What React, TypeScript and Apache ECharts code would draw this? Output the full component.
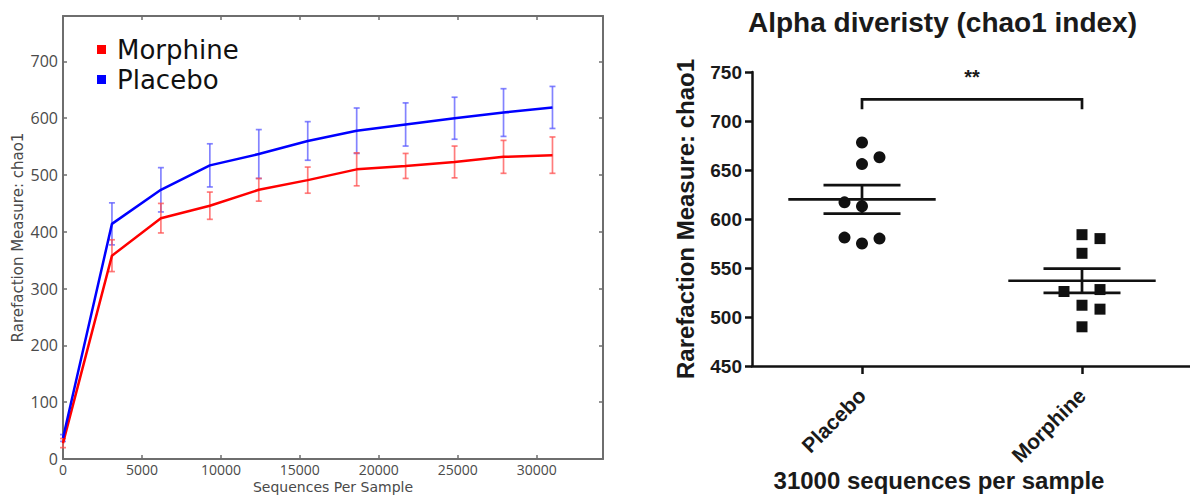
import React, { useEffect, useRef } from "react";
import * as echarts from "echarts";

// ---------- Left panel: rarefaction curves ----------
const seqDepth = [0, 3100, 6200, 9300, 12400, 15500, 18600, 21700, 24800, 27900, 31000];
const placeboMean = [37, 414, 474, 517, 537, 560, 578, 589, 600, 610, 619];
const placeboErr = [6, 37, 39, 38, 43, 34, 40, 38, 37, 42, 37];
const morphineMean = [28, 358, 424, 446, 474, 491, 510, 516, 523, 532, 535];
const morphineErr = [8, 28, 26, 24, 20, 23, 29, 22, 28, 29, 32];
const leftXMax = 34200;
const leftYMax = 780;

// ---------- Right panel: chao1 at 31000 sequences ----------
const groupNames = ["Placebo", "Morphine"];
const placeboChao1 = [678, 663, 656, 617, 613, 581, 575, 580];
const placeboColumn = [0, 1, 0, -1, 0, -1, 0, 1];
const morphineChao1 = [584, 580, 565, 526, 528, 512, 508, 490];
const morphineColumn = [0, 1, 0, -1, 1, 0, 1, 0];
const groupMean = [620, 537];
const groupSem = [14.5, 12.3];
const bracketTop = 722;
const bracketDrop = 712;
const starLevel = 745;

const LEFT_FONT = "'Open Sans', 'DejaVu Sans', sans-serif";
const LEFT_NAME_FONT = "'DejaVu Sans', sans-serif";
const RIGHT_FONT = "'Liberation Sans', Arial, sans-serif";
const FRAME = "#6e6e6e";

function errorBarSeries(name: string, means: number[], errs: number[], color: string) {
  return {
    name,
    type: "custom",
    xAxisIndex: 0,
    yAxisIndex: 0,
    z: 2,
    data: seqDepth.map((x, i) => [x, means[i] - errs[i], means[i] + errs[i]]),
    renderItem: (params: any, api: any) => {
      const lo = api.coord([api.value(0), api.value(1)]);
      const hi = api.coord([api.value(0), api.value(2)]);
      const cap = 3;
      const st = { stroke: color, lineWidth: 1.7 };
      return {
        type: "group",
        children: [
          { type: "line", shape: { x1: lo[0], y1: lo[1], x2: hi[0], y2: hi[1] }, style: st },
          { type: "line", shape: { x1: lo[0] - cap, y1: lo[1], x2: lo[0] + cap, y2: lo[1] }, style: st },
          { type: "line", shape: { x1: hi[0] - cap, y1: hi[1], x2: hi[0] + cap, y2: hi[1] }, style: st },
        ],
      };
    },
  };
}

function buildOption(): any {
  const leftYLabel = { color: "#4a4a4a", fontFamily: LEFT_FONT, fontSize: 16 };
  const leftXLabel = { color: "#4a4a4a", fontFamily: LEFT_FONT, fontSize: 14, lineHeight: 14 };
  const leftXName = { color: "#4a4a4a", fontFamily: LEFT_NAME_FONT, fontSize: 14, lineHeight: 14 };
  const leftYName = { color: "#4a4a4a", fontFamily: LEFT_NAME_FONT, fontSize: 15 };
  const frameLine = { show: true, onZero: false, lineStyle: { color: FRAME, width: 2 } };
  const innerTick = { show: true, inside: true, length: 4, lineStyle: { color: FRAME, width: 1.5 } };
  const hideOdd = (step: number) => (v: number) => (Math.abs(v % step) < 1e-6 ? String(v) : "");
  const blackLine = { show: true, onZero: false, lineStyle: { color: "#111", width: 2.5 } };

  return {
    animation: false,
    backgroundColor: "#ffffff",
    title: {
      text: "Alpha diveristy (chao1 index)",
      left: 743,
      top: 3,
      textStyle: { fontFamily: RIGHT_FONT, fontWeight: "bold", fontSize: 28, color: "#1a1a1a" },
    },
    legend: {
      data: ["Morphine", "Placebo"],
      orient: "vertical",
      left: 97,
      top: 36,
      padding: 0,
      icon: "rect",
      itemWidth: 9,
      itemHeight: 9,
      itemGap: 3,
      selectedMode: false,
      textStyle: {
        fontFamily: "'DejaVu Sans', sans-serif",
        fontSize: 26,
        lineHeight: 27,
        color: "#111",
        padding: [0, 0, 0, 6],
      },
    },
    grid: [
      { left: 63, top: 16, width: 540, height: 443, containLabel: false, outerBoundsMode: "none" },
      { left: 752, top: 72, width: 440, height: 294, containLabel: false, outerBoundsMode: "none" },
    ],
    xAxis: [
      {
        gridIndex: 0,
        type: "value",
        position: "bottom",
        min: 0,
        max: leftXMax,
        interval: 5000,
        axisLine: frameLine,
        axisTick: innerTick,
        splitLine: { show: false },
        axisLabel: { ...leftXLabel, margin: 3, showMaxLabel: false, formatter: hideOdd(5000) },
        name: "Sequences Per Sample",
        nameLocation: "middle",
        nameGap: 21,
        nameMoveOverlap: false,
        nameTextStyle: leftXName,
      },
      {
        gridIndex: 0,
        type: "value",
        position: "top",
        min: 0,
        max: leftXMax,
        interval: 5000,
        axisLine: frameLine,
        axisTick: innerTick,
        splitLine: { show: false },
        axisLabel: { show: false },
      },
      {
        gridIndex: 1,
        type: "category",
        data: groupNames,
        boundaryGap: true,
        axisLine: blackLine,
        axisTick: { show: true, alignWithLabel: true, length: 8, lineStyle: { color: "#111", width: 2.5 } },
        axisLabel: {
          rotate: 45,
          margin: 26,
          fontFamily: RIGHT_FONT,
          fontWeight: "bold",
          fontSize: 21,
          color: "#1a1a1a",
        },
        splitLine: { show: false },
        name: "31000 sequences per sample",
        nameLocation: "middle",
        nameGap: 102,
        nameMoveOverlap: false,
        nameTextStyle: {
          fontFamily: RIGHT_FONT,
          fontWeight: "bold",
          fontSize: 24,
          color: "#1a1a1a",
          padding: [0, 66, 0, 0],
        },
      },
    ],
    yAxis: [
      {
        gridIndex: 0,
        type: "value",
        position: "left",
        min: 0,
        max: leftYMax,
        interval: 100,
        axisLine: frameLine,
        axisTick: innerTick,
        splitLine: { show: false },
        axisLabel: { ...leftYLabel, margin: 5, showMaxLabel: false, formatter: hideOdd(100) },
        name: "Rarefaction Measure: chao1",
        nameLocation: "middle",
        nameGap: 38,
        nameTextStyle: leftYName,
      },
      {
        gridIndex: 0,
        type: "value",
        position: "right",
        min: 0,
        max: leftYMax,
        interval: 100,
        axisLine: frameLine,
        axisTick: innerTick,
        splitLine: { show: false },
        axisLabel: { show: false },
      },
      {
        gridIndex: 1,
        type: "value",
        min: 450,
        max: 750,
        interval: 50,
        axisLine: blackLine,
        axisTick: { show: true, length: 7, lineStyle: { color: "#111", width: 2.5 } },
        splitLine: { show: false },
        axisLabel: {
          margin: 10,
          fontFamily: RIGHT_FONT,
          fontWeight: "bold",
          fontSize: 19,
          color: "#1a1a1a",
        },
        name: "Rarefaction Measure: chao1",
        nameLocation: "middle",
        nameGap: 55,
        nameTextStyle: { fontFamily: RIGHT_FONT, fontWeight: "bold", fontSize: 24, color: "#1a1a1a" },
      },
    ],
    series: [
      errorBarSeries("Placebo SEM", placeboMean, placeboErr, "rgba(90, 90, 255, 0.75)"),
      errorBarSeries("Morphine SEM", morphineMean, morphineErr, "rgba(255, 80, 80, 0.75)"),
      {
        name: "Morphine",
        type: "line",
        xAxisIndex: 0,
        yAxisIndex: 0,
        z: 3,
        showSymbol: false,
        color: "#ff0000",
        lineStyle: { color: "#ff0000", width: 2.5 },
        data: seqDepth.map((x, i) => [x, morphineMean[i]]),
      },
      {
        name: "Placebo",
        type: "line",
        xAxisIndex: 0,
        yAxisIndex: 0,
        z: 4,
        showSymbol: false,
        color: "#0000ff",
        lineStyle: { color: "#0000ff", width: 2.5 },
        data: seqDepth.map((x, i) => [x, placeboMean[i]]),
      },
      {
        name: "Placebo chao1",
        type: "scatter",
        xAxisIndex: 2,
        yAxisIndex: 2,
        symbol: "circle",
        symbolSize: 12,
        itemStyle: { color: "#111", opacity: 1 },
        data: placeboChao1.map((v, i) => ({ value: [0, v], symbolOffset: [placeboColumn[i] * 17.5, 0] })),
      },
      {
        name: "Morphine chao1",
        type: "scatter",
        xAxisIndex: 2,
        yAxisIndex: 2,
        symbol: "rect",
        symbolSize: 11,
        itemStyle: { color: "#111", opacity: 1 },
        data: morphineChao1.map((v, i) => ({ value: [1, v], symbolOffset: [morphineColumn[i] * 18, 0] })),
      },
      {
        name: "Mean ± SEM",
        type: "custom",
        xAxisIndex: 2,
        yAxisIndex: 2,
        z: 5,
        data: groupMean.map((m, i) => [i, m, groupSem[i]]),
        renderItem: (params: any, api: any) => {
          const idx = api.value(0);
          const m = api.value(1);
          const s = api.value(2);
          const c = api.coord([idx, m]);
          const up = api.coord([idx, m + s]);
          const dn = api.coord([idx, m - s]);
          const band = api.size([1, 0])[0];
          const wm = band * 0.335;
          const ws = band * 0.175;
          const st = { stroke: "#111", lineWidth: 2.7 };
          return {
            type: "group",
            children: [
              { type: "line", shape: { x1: c[0] - wm, y1: c[1], x2: c[0] + wm, y2: c[1] }, style: st },
              { type: "line", shape: { x1: up[0] - ws, y1: up[1], x2: up[0] + ws, y2: up[1] }, style: st },
              { type: "line", shape: { x1: dn[0] - ws, y1: dn[1], x2: dn[0] + ws, y2: dn[1] }, style: st },
              { type: "line", shape: { x1: up[0], y1: up[1], x2: dn[0], y2: dn[1] }, style: st },
            ],
          };
        },
      },
      {
        name: "Significance",
        type: "custom",
        xAxisIndex: 2,
        yAxisIndex: 2,
        z: 5,
        data: [[0, 1, bracketTop, bracketDrop, starLevel]],
        renderItem: (params: any, api: any) => {
          const a = api.coord([api.value(0), api.value(2)]);
          const b = api.coord([api.value(1), api.value(2)]);
          const drop = api.coord([api.value(0), api.value(3)])[1];
          const star = api.coord([api.value(0), api.value(4)])[1];
          return {
            type: "group",
            children: [
              {
                type: "polyline",
                shape: { points: [[a[0], drop], [a[0], a[1]], [b[0], b[1]], [b[0], drop]] },
                style: { stroke: "#111", lineWidth: 2.7, fill: "none" },
              },
              {
                type: "text",
                x: (a[0] + b[0]) / 2,
                y: star,
                style: {
                  text: "**",
                  fontFamily: RIGHT_FONT,
                  fontWeight: "bold",
                  fontSize: 20,
                  fill: "#1a1a1a",
                  align: "center",
                  verticalAlign: "middle",
                },
              },
            ],
          };
        },
      },
    ],
  };
}

export default function App() {
  const ref = useRef<HTMLDivElement>(null);
  useEffect(() => {
    if (!ref.current) return;
    const chart = echarts.init(ref.current, null, { renderer: "svg" });
    chart.setOption(buildOption());
    return () => chart.dispose();
  }, []);
  return (
    <div
      ref={ref}
      style={{ position: "absolute", left: 0, top: 0, width: 1190, height: 497, background: "#fff" }}
    />
  );
}
